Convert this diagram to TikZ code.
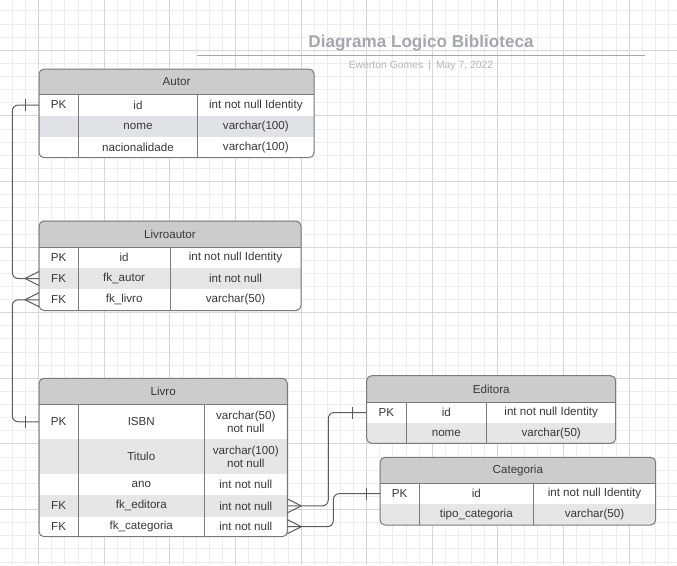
\documentclass[tikz,border=0pt]{standalone}
\usepackage{fontspec}
\setmainfont{Liberation Sans}
\definecolor{gridminor}{HTML}{EDEDED}
\definecolor{gridmajor}{HTML}{D6D6D6}
\definecolor{hdr}{HTML}{CCCCCC}
\definecolor{stripe}{HTML}{E6E6E6}
\definecolor{stripeblue}{HTML}{DFE3E8}
\definecolor{bordc}{HTML}{7A7A7A}
\definecolor{txt}{HTML}{383838}
\definecolor{connc}{HTML}{5C5C5C}
\definecolor{titlec}{HTML}{A3A7AE}
\definecolor{subc}{HTML}{B2B5BA}
\tikzset{
  cell/.style={inner sep=0pt, text=txt, align=center, font=\fontsize{11.6}{13.5}\selectfont},
  tabborder/.style={draw=bordc, line width=1pt},
  conn/.style={draw=connc, line width=1pt},
}
% \errow{name}{y1}{y2}{fill}{t1}{t2}{t3}
\newcommand{\errow}[7]{%
  \fill[#4] (\xl,#2) rectangle (\xr,#3);
  \if\relax\detokenize{#5}\relax\else\node[cell] (#1-a) at ({(\xl+\xa)/2},{(#2+#3)/2}) {#5};\fi
  \if\relax\detokenize{#6}\relax\else\node[cell] (#1-b) at ({(\xa+\xb)/2},{(#2+#3)/2}) {#6};\fi
  \if\relax\detokenize{#7}\relax\else\node[cell] (#1-c) at ({(\xb+\xr)/2},{(#2+#3)/2}) {#7};\fi
  \coordinate (#1-w) at (\xl,{(#2+#3)/2});
  \coordinate (#1-e) at (\xr,{(#2+#3)/2});
}
% \erhead{name}{ytop}{yhead}{title}
\newcommand{\erhead}[4]{%
  \fill[hdr] (\xl,#2) rectangle (\xr,#3);
  \node[cell] (#1) at ({(\xl+\xr)/2},{(#2+#3)/2}) {#4};
}
% \erframe{ytop}{yhead}{ybot}
\newcommand{\erframe}[3]{%
  \draw[tabborder] (\xl,#2) -- (\xr,#2);
  \draw[tabborder] (\xa,#2) -- (\xa,#3);
  \draw[tabborder] (\xb,#2) -- (\xb,#3);
  \draw[tabborder, rounded corners=5pt] (\xl,#1) rectangle (\xr,#3);
}
\begin{document}
\begin{tikzpicture}[x=1pt,y=-1pt]
\useasboundingbox (0,0) rectangle (677,565);
\fill[white] (0,0) rectangle (677,565);
% grid
\foreach \k in {0,...,52} {
  \pgfmathsetmacro{\gx}{-0.66+13.12*\k}
  \draw[gridminor, line width=0.9pt] (\gx,0) -- (\gx,565);
}
\foreach \k in {0,...,43} {
  \pgfmathsetmacro{\gy}{-2.18+13.12*\k}
  \draw[gridminor, line width=0.9pt] (0,\gy) -- (677,\gy);
}
\foreach \k in {3,8,...,53} {
  \pgfmathsetmacro{\gx}{-0.66+13.12*\k}
  \draw[gridmajor, line width=0.9pt] (\gx,0) -- (\gx,565);
}
\foreach \k in {4,9,...,44} {
  \pgfmathsetmacro{\gy}{-2.18+13.12*\k}
  \draw[gridmajor, line width=0.9pt] (0,\gy) -- (677,\gy);
}
% title
\node[inner sep=0pt, text=titlec, font=\fontsize{17.1}{20}\selectfont\bfseries] (title) at (421,43.3) {Diagrama Logico Biblioteca};
\coordinate (tl1) at (197,55.3);
\coordinate (tl2) at (645,55.3);
\draw[titlec, line width=1pt] (tl1) -- (tl2);
\node[inner sep=0pt, text=subc, font=\fontsize{10.4}{12}\selectfont] (subtitle) at (421,66) {Ewerton Gomes\hspace{5pt}|\hspace{5pt}May 7, 2022};

% ---------- Autor ----------
\def\xl{39}\def\xa{78.3}\def\xb{197.7}\def\xr{314}
\begin{scope}
\clip[rounded corners=5pt] (\xl,69) rectangle (\xr,157.7);
\fill[white] (\xl,69) rectangle (\xr,157.7);
\erhead{autor}{69}{94.3}{Autor}
\errow{autor-id}{94.3}{115.7}{white}{PK}{id}{int not null Identity}
\errow{autor-nome}{115.7}{136.7}{stripeblue}{}{nome}{varchar(100)}
\errow{autor-nac}{136.7}{157.7}{white}{}{nacionalidade}{varchar(100)}
\end{scope}
\erframe{69}{94.3}{157.7}

% ---------- Livroautor ----------
\def\xl{39}\def\xa{78.3}\def\xb{170}\def\xr{301}
\begin{scope}
\clip[rounded corners=5pt] (\xl,221) rectangle (\xr,310.5);
\fill[white] (\xl,221) rectangle (\xr,310.5);
\erhead{la}{221}{247.3}{Livroautor}
\errow{la-id}{247.3}{268}{white}{PK}{id}{int not null Identity}
\errow{la-fka}{268}{289}{stripe}{FK}{fk\_autor}{int not null}
\errow{la-fkl}{289}{310.5}{white}{FK}{fk\_livro}{varchar(50)}
\end{scope}
\erframe{221}{247.3}{310.5}

% ---------- Livro ----------
\def\xl{39}\def\xa{78.3}\def\xb{204.3}\def\xr{287.3}
\begin{scope}
\clip[rounded corners=5pt] (\xl,378.3) rectangle (\xr,536.7);
\fill[white] (\xl,378.3) rectangle (\xr,536.7);
\erhead{livro}{378.3}{404.3}{Livro}
\errow{livro-isbn}{404.3}{439.3}{white}{PK}{ISBN}{varchar(50)\\not null}
\errow{livro-tit}{439.3}{474.3}{stripe}{}{Titulo}{varchar(100)\\not null}
\errow{livro-ano}{474.3}{495}{white}{}{ano}{int not null}
\errow{livro-fke}{495}{516.7}{stripe}{FK}{fk\_editora}{int not null}
\errow{livro-fkc}{516.7}{536.7}{white}{FK}{fk\_categoria}{int not null}
\end{scope}
\erframe{378.3}{404.3}{536.7}

% ---------- Editora ----------
\def\xl{366.7}\def\xa{406}\def\xb{486.7}\def\xr{615.7}
\begin{scope}
\clip[rounded corners=5pt] (\xl,375.7) rectangle (\xr,443.3);
\fill[white] (\xl,375.7) rectangle (\xr,443.3);
\erhead{editora}{375.7}{402.3}{Editora}
\errow{ed-id}{402.3}{422.7}{white}{PK}{id}{int not null Identity}
\errow{ed-nome}{422.7}{443.3}{stripe}{}{nome}{varchar(50)}
\end{scope}
\erframe{375.7}{402.3}{443.3}

% ---------- Categoria ----------
\def\xl{380}\def\xa{419.3}\def\xb{533.3}\def\xr{655.7}
\begin{scope}
\clip[rounded corners=5pt] (\xl,457.3) rectangle (\xr,525);
\fill[white] (\xl,457.3) rectangle (\xr,525);
\erhead{categoria}{457.3}{483.3}{Categoria}
\errow{cat-id}{483.3}{504}{white}{PK}{id}{int not null Identity}
\errow{cat-tipo}{504}{525}{stripe}{}{tipo\_categoria}{varchar(50)}
\end{scope}
\erframe{457.3}{483.3}{525}

% ---------- connectors ----------
% Autor.id (one) -> Livroautor.fk_autor (many)
\draw[conn, rounded corners=6pt] (autor-id-w) -| (12.3,200) |- (la-fka-w);
\draw[conn] ([xshift=-14pt,yshift=-6pt]autor-id-w) -- ([xshift=-14pt,yshift=6pt]autor-id-w);
\draw[conn] ([xshift=-14pt]la-fka-w) -- ([yshift=-7pt]la-fka-w);
\draw[conn] ([xshift=-14pt]la-fka-w) -- ([yshift=7pt]la-fka-w);

% Livroautor.fk_livro (many) -> Livro.ISBN (one)
\draw[conn, rounded corners=6pt] (la-fkl-w) -| (12.3,380) |- (livro-isbn-w);
\draw[conn] ([xshift=-14pt]la-fkl-w) -- ([yshift=-7pt]la-fkl-w);
\draw[conn] ([xshift=-14pt]la-fkl-w) -- ([yshift=7pt]la-fkl-w);
\draw[conn] ([xshift=-14pt,yshift=-6pt]livro-isbn-w) -- ([xshift=-14pt,yshift=6pt]livro-isbn-w);

% Livro.fk_editora (many) -> Editora.id (one)
\draw[conn, rounded corners=6pt] (livro-fke-e) -| (328.3,460) |- (ed-id-w);
\draw[conn] ([xshift=14pt]livro-fke-e) -- ([yshift=-7pt]livro-fke-e);
\draw[conn] ([xshift=14pt]livro-fke-e) -- ([yshift=7pt]livro-fke-e);
\draw[conn] ([xshift=-14pt,yshift=-6pt]ed-id-w) -- ([xshift=-14pt,yshift=6pt]ed-id-w);

% Livro.fk_categoria (many) -> Categoria.id (one)
\draw[conn, rounded corners=6pt] (livro-fkc-e) -| (333.3,510) |- (cat-id-w);
\draw[conn] ([xshift=14pt]livro-fkc-e) -- ([yshift=-7pt]livro-fkc-e);
\draw[conn] ([xshift=14pt]livro-fkc-e) -- ([yshift=7pt]livro-fkc-e);
\draw[conn] ([xshift=-14pt,yshift=-6pt]cat-id-w) -- ([xshift=-14pt,yshift=6pt]cat-id-w);
\end{tikzpicture}
\end{document}
